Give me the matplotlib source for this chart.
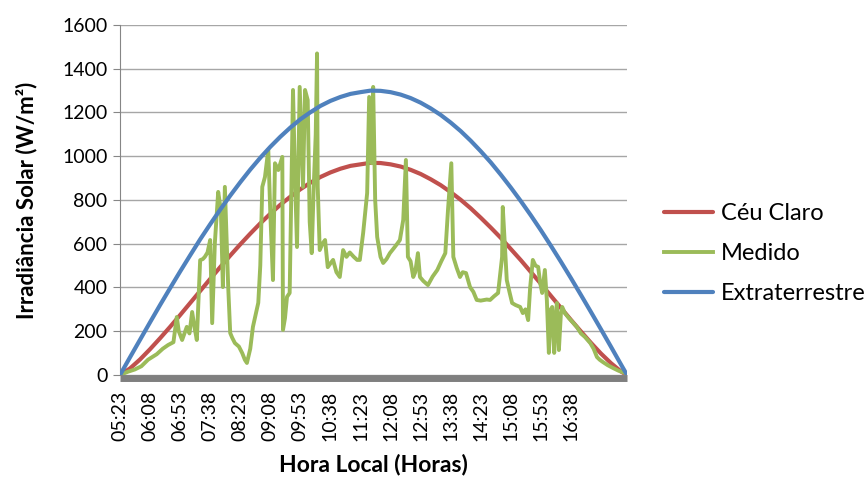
import matplotlib.pyplot as plt
from matplotlib.ticker import MultipleLocator

plt.rcParams['font.family'] = ['Lato', 'DejaVu Sans']

# minutes after 05:23, one point every 15 min (last point at sunset)
model_minutes = [15 * k for k in range(51)] + [759]
ceu_claro = [0, 30, 71, 118, 168, 220, 274, 329, 384, 439, 493, 546, 597, 646,
             693, 737, 778, 815, 849, 879, 905, 926, 943, 956, 963, 970, 969,
             963, 953, 938, 919, 895, 868, 836, 801, 762, 719, 674, 627, 576,
             525, 471, 417, 362, 307, 252, 199, 147, 98, 54, 16, 0]
extraterrestre = [0, 81, 161, 241, 320, 397, 473, 547, 620, 689, 756, 820, 881,
                  939, 993, 1043, 1089, 1131, 1169, 1201, 1230, 1253, 1271,
                  1285, 1293, 1300, 1299, 1293, 1282, 1266, 1245, 1219, 1189,
                  1154, 1115, 1071, 1023, 972, 916, 857, 795, 730, 662, 591,
                  518, 443, 366, 288, 209, 129, 48, 0]

# measured irradiance (minutes after 05:23, W/m2)
medido_minutes = [0, 12, 22, 32, 42, 55, 64, 72, 80, 85, 88, 93, 100, 104, 108,
                  112, 115, 120, 124, 127, 131, 135, 138, 142, 147, 151, 154,
                  157, 162, 165, 168, 172, 178, 183, 187, 190, 195, 199, 207,
                  210, 213, 217, 222, 225, 229, 232, 237, 243, 244, 247, 250,
                  254, 259, 262, 265, 269, 274, 277, 281, 284, 287, 290, 293,
                  295, 296, 299, 303, 307, 311, 315, 319, 324, 329, 334, 339,
                  344, 350, 355, 359, 364, 367, 370, 373, 377, 379, 382, 385,
                  390, 394, 399, 404, 410, 415, 419, 424, 428, 431, 435, 439,
                  442, 446, 449, 454, 461, 468, 475, 481, 487, 491, 496, 499,
                  504, 509, 513, 518, 524, 529, 534, 540, 546, 549, 554, 560,
                  566, 572, 573, 579, 583, 587, 592, 599, 603, 607, 611, 614,
                  618, 622, 626, 629, 632, 636, 639, 642, 645, 647, 650, 652,
                  654, 657, 660, 662, 666, 672, 678, 684, 690, 696, 700, 704,
                  709, 714, 718, 723, 730, 738, 746, 756]
medido = [0, 15, 25, 40, 70, 95, 120, 137, 150, 265, 200, 160, 220, 190, 288,
          210, 160, 525, 530, 540, 560, 617, 237, 603, 837, 754, 402, 860, 402,
          192, 170, 146, 130, 100, 69, 55, 120, 220, 330, 500, 860, 905, 1030,
          740, 434, 968, 937, 997, 206, 260, 357, 375, 1303, 900, 585, 1317,
          860, 1303, 1257, 700, 557, 860, 1100, 1470, 860, 571, 600, 617, 493,
          510, 526, 470, 448, 571, 540, 560, 540, 526, 526, 649, 740, 832,
          1271, 968, 1317, 800, 631, 540, 512, 530, 557, 580, 600, 617, 709,
          983, 540, 520, 448, 470, 557, 448, 430, 411, 450, 480, 520, 557, 754,
          968, 540, 490, 448, 470, 466, 402, 380, 343, 340, 343, 345, 343, 360,
          375, 540, 768, 434, 380, 329, 320, 311, 283, 300, 251, 400, 526, 500,
          494, 420, 375, 480, 343, 101, 300, 311, 101, 250, 329, 114, 280, 311,
          283, 260, 240, 219, 190, 174, 160, 146, 120, 82, 70, 59, 45, 32, 20,
          9]

tick_labels = ['05:23', '06:08', '06:53', '07:38', '08:23', '09:08', '09:53',
               '10:38', '11:23', '12:08', '12:53', '13:38', '14:23', '15:08',
               '15:53', '16:38']

fig = plt.figure(figsize=(8.67, 4.78), dpi=100)
ax = fig.add_axes([0.1384, 0.2155, 0.5848, 0.7322])

ax.plot(model_minutes, ceu_claro, color='#C0504D', lw=3, label='Céu Claro',
        solid_capstyle='round', zorder=3)
ax.plot(medido_minutes, medido, color='#9BBB59', lw=2.8, label='Medido',
        solid_joinstyle='round', zorder=4)
ax.plot(model_minutes, extraterrestre, color='#4F81BD', lw=3,
        label='Extraterrestre', solid_capstyle='round', zorder=5)

# y axis
ax.set_ylim(0, 1600)
ax.yaxis.set_major_locator(MultipleLocator(200))
ax.grid(True, axis='y', color='#a6a6a6', lw=1)
ax.set_axisbelow(True)
ax.set_ylabel('Irradiância Solar (W/m²)', fontsize=16, fontweight='bold',
              labelpad=18)

# x axis, one label every 45 minutes
ax.set_xlim(0, 759)
ax.set_xticks([45 * i for i in range(len(tick_labels))])
ax.set_xticklabels(tick_labels)
ax.set_xlabel('Hora Local (Horas)', fontsize=16.5, fontweight='bold',
              labelpad=9)

ax.tick_params(axis='y', labelsize=14, length=5, color='#868686', pad=4)
ax.tick_params(axis='x', labelsize=14, length=0, pad=9, labelrotation=90)

for s in ['top', 'right']:
    ax.spines[s].set_visible(False)
ax.spines['left'].set_color('#868686')
ax.spines['bottom'].set_color('#7f7f7f')
ax.spines['bottom'].set_linewidth(5)
ax.spines['bottom'].set_position(('outward', 2.5))
ax.spines['bottom'].set_capstyle('butt')

fig.legend(loc='center left', bbox_to_anchor=(0.766, 0.469), frameon=False,
           fontsize=17, handlelength=2.05, handletextpad=0.35,
           labelspacing=0.8, borderpad=0, borderaxespad=0)

fig.savefig('out.png', dpi=100)
